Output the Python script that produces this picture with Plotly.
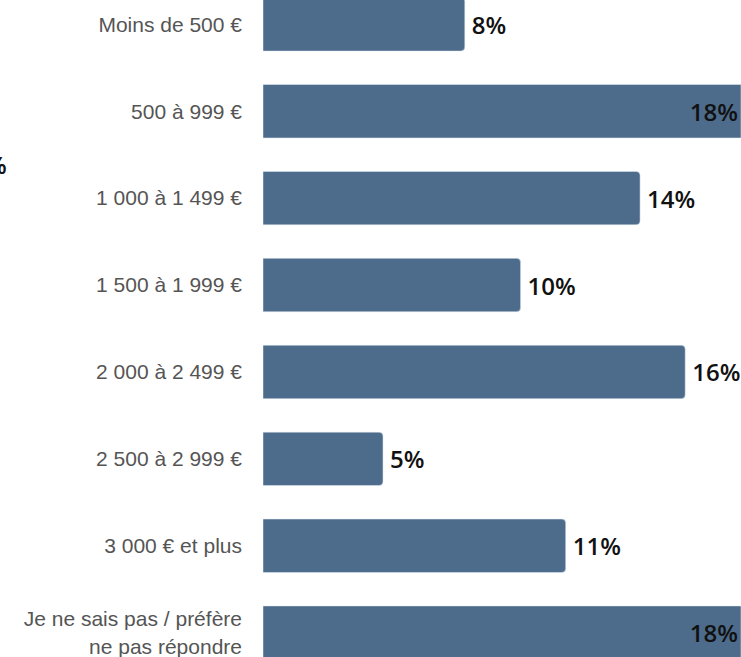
import plotly.graph_objects as go

# Tranches de revenu (de haut en bas)
categories = [
    "Moins de 500 €",
    "500 à 999 €",
    "1 000 à 1 499 €",
    "1 500 à 1 999 €",
    "2 000 à 2 499 €",
    "2 500 à 2 999 €",
    "3 000 € et plus",
    "Je ne sais pas / préfère<br>ne pas répondre",
]
values = [7.6, 18.0, 14.2, 9.7, 15.9, 4.52, 11.4, 18.0]

x_max = 18.0
label_font = dict(family="Open Sans", size=24, color="#111111", weight=600)
bar_color = "#4d6c8b"

fig = go.Figure()

# barres normales : étiquette à l'extérieur, coins arrondis
short = [(c, v) for c, v in zip(categories, values) if v < x_max]
fig.add_trace(
    go.Bar(
        y=[c for c, v in short],
        x=[v for c, v in short],
        orientation="h",
        marker=dict(color=bar_color, cornerradius=4),
        text=[f"\u2009{v:.0f}%" for c, v in short],
        textposition="outside",
        textfont=label_font,
        cliponaxis=False,
        hoverinfo="skip",
    )
)

# barres qui touchent le bord droit : étiquette à l'intérieur
full = [(c, v) for c, v in zip(categories, values) if v >= x_max]
fig.add_trace(
    go.Bar(
        y=[c for c, v in full],
        x=[v for c, v in full],
        orientation="h",
        marker=dict(color=bar_color),
        text=[f"{v:.0f}%" for c, v in full],
        textposition="inside",
        insidetextanchor="end",
        textfont=label_font,
        hoverinfo="skip",
    )
)

# fragment de texte coupé sur la gauche
fig.add_annotation(
    text="%",
    xref="paper", yref="paper",
    x=-0.531, y=0.749,
    xanchor="right", yanchor="middle",
    showarrow=False,
    font=label_font,
)

fig.update_layout(
    width=741,
    height=657,
    margin=dict(l=263, r=0, t=0, b=0),
    plot_bgcolor="white",
    paper_bgcolor="white",
    barmode="overlay",
    bargap=0.385,
    showlegend=False,
    font=dict(family="Liberation Sans"),
)
fig.update_xaxes(range=[0, x_max], visible=False, showgrid=False, zeroline=False)
fig.update_yaxes(
    categoryorder="array",
    categoryarray=categories,
    autorange=False,
    range=[7.28, -0.28],
    showgrid=False,
    showline=False,
    ticks="",
    ticklabelstandoff=20,
    tickfont=dict(family="Liberation Sans", size=21, color="#555555"),
)

# pas de marge autour de la page
fig.write_html(
    "out.html",
    config={"displayModeBar": False},
    post_script="document.body.style.margin='0';document.body.style.overflow='hidden';",
)
